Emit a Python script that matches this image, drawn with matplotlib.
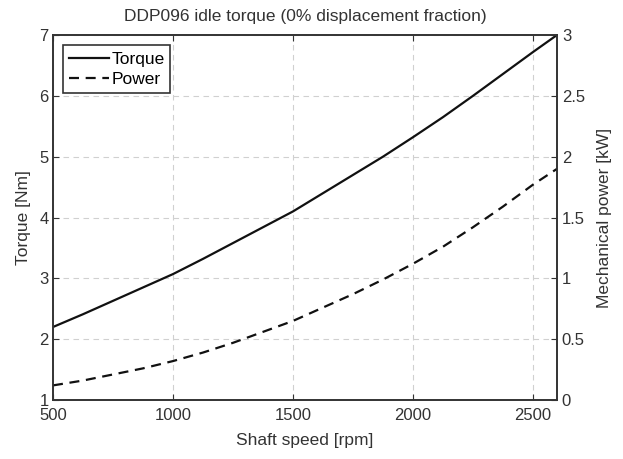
import matplotlib
matplotlib.use("Agg")
import matplotlib.pyplot as plt

speed = [500, 625, 750, 875, 1000, 1125, 1250, 1375, 1500, 1625, 1750, 1875,
         2000, 2125, 2250, 2375, 2500, 2600]
torque = [2.20, 2.41, 2.63, 2.85, 3.07, 3.32, 3.58, 3.84, 4.10, 4.40, 4.70, 5.00,
          5.32, 5.65, 6.00, 6.36, 6.72, 7.00]
power = [0.12, 0.16, 0.21, 0.26, 0.32, 0.39, 0.47, 0.56, 0.65, 0.76, 0.87, 0.99,
         1.12, 1.26, 1.42, 1.59, 1.77, 1.90]

plt.rcParams['font.family'] = ['Liberation Sans', 'DejaVu Sans']
plt.rcParams['font.size'] = 12

fig = plt.figure(figsize=(6.23, 4.59), dpi=100)
ax = fig.add_axes([53/623, 1-400/459, (557-53)/623, (400-35)/459])
ax2 = ax.twinx()

l1, = ax.plot(speed, torque, color='#111111', lw=1.6, label='Torque')
l2, = ax2.plot(speed, power, color='#111111', lw=1.6, ls=(0, (4.5, 3)), label='Power')

ax.set_xlim(500, 2600)
ax.set_ylim(1, 7)
ax2.set_ylim(0, 3)
ax.set_xticks([500, 1000, 1500, 2000, 2500])
ax.set_yticks([1, 2, 3, 4, 5, 6, 7])
ax2.set_yticks([0, 0.5, 1, 1.5, 2, 2.5, 3])
ax2.set_yticklabels(['0', '0.5', '1', '1.5', '2', '2.5', '3'])

ax.grid(True, color='#d0d0d0', ls=(0, (5, 4)), lw=0.8)
ax.tick_params(direction='in', top=True, length=4, colors='#333333', labelcolor='#333333', labelsize=12)
ax.tick_params(axis='x', pad=6)
ax.tick_params(axis='y', pad=3)
ax2.tick_params(direction='in', length=4, colors='#333333', labelcolor='#333333', labelsize=12)
for a in (ax, ax2):
    for s in a.spines.values():
        s.set_color('#333333')
        s.set_linewidth(1.2)

ax.set_xlabel('Shaft speed [rpm]', fontsize=12.5, color='#333333', labelpad=7)
ax.set_ylabel('Torque [Nm]', fontsize=12.5, color='#333333', labelpad=6)
ax2.set_ylabel('Mechanical power [kW]', fontsize=12.5, color='#333333', labelpad=9)
ax.set_title('DDP096 idle torque (0% displacement fraction)', fontsize=12.5, color='#333333', pad=10)

leg = ax.legend(handles=[l1, l2], loc='upper left', fontsize=12.5, frameon=True, fancybox=False,
                edgecolor='#333333', framealpha=1, borderaxespad=0.6, handlelength=2.3,
                handletextpad=0.1, borderpad=0.35, labelspacing=0.3)
leg.get_frame().set_linewidth(1.2)

fig.savefig('out.png', dpi=100)
